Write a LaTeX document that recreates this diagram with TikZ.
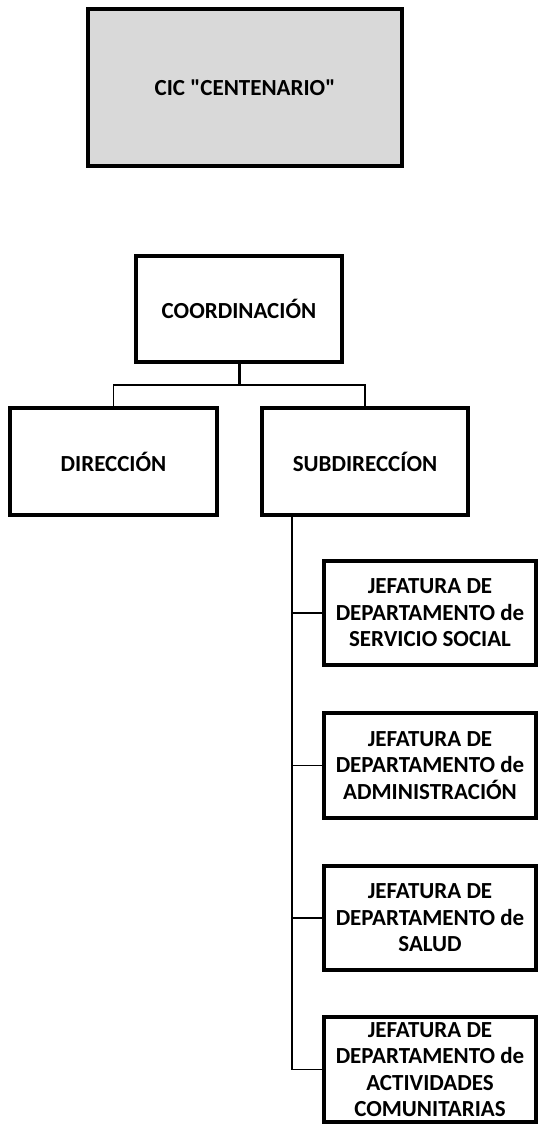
\documentclass[tikz,border=0pt]{standalone}
\usepackage{fontspec}
\setmainfont{Carlito}
\usepackage{tikz}
\usetikzlibrary{positioning}
\usetikzlibrary{calc}
\definecolor{cajagris}{HTML}{D9D9D9}
\tikzset{caja/.style={draw=black,line width=4pt,fill=white,align=center,
    font=\fontsize{23}{26.5}\selectfont\bfseries,inner sep=1pt},
  enlace/.style={draw=black,line width=1.6pt}}

\begin{document}
\begin{tikzpicture}[x=1pt,y=1pt]
  \useasboundingbox[fill=white] (0,0) rectangle (540,-1126);
  \node[caja,fill=cajagris,minimum width=314pt,minimum height=157pt] (cic) at (245,-87.5) {CIC \textquotedbl CENTENARIO\textquotedbl};
  \node[caja,minimum width=206pt,minimum height=106pt] (coord) at (239,-309) {COORDINACIÓN};
  \node[caja,minimum width=207pt,minimum height=107pt] (dir) at (113.5,-461.5) {DIRECCIÓN};
  \node[caja,minimum width=206pt,minimum height=107pt] (sub) at (365,-461.5) {SUBDIRECCÍON};
  \foreach \n/\y/\t in {j1/613/{JEFATURA DE\\DEPARTAMENTO de\\SERVICIO SOCIAL},
                        j2/765.5/{JEFATURA DE\\DEPARTAMENTO de\\ADMINISTRACIÓN},
                        j3/918/{JEFATURA DE\\DEPARTAMENTO de\\SALUD},
                        j4/1069.5/{JEFATURA DE\\DEPARTAMENTO de\\ACTIVIDADES\\COMUNITARIAS}}
    \node[caja,minimum width=212pt,minimum height=104.5pt] (\n) at (430,-\y) {\t};
  % conectores
  \coordinate (bus) at (239,-385);
  \draw[enlace,line width=3pt] (coord.south) -- (bus);
  \draw[enlace] (bus) -| (dir.north);
  \draw[enlace] (bus) -| (sub.north);
  \coordinate (espina) at (292,-517);
  \draw[enlace] (espina) |- (j4.west);
  \foreach \n in {j1,j2,j3}
    \draw[enlace] (espina |- \n.west) -- (\n.west);
\end{tikzpicture}
\end{document}
